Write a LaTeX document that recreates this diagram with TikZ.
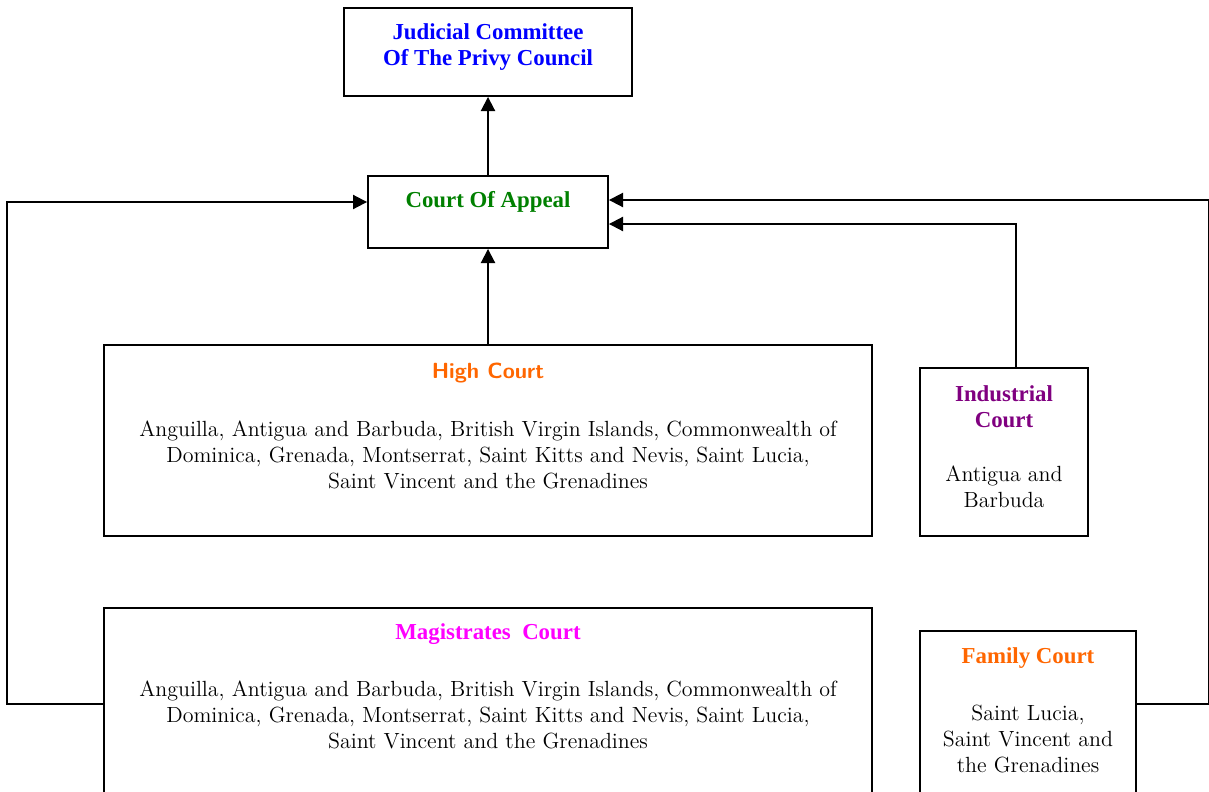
\documentclass[tikz,border=0pt]{standalone}
\usepackage{fontspec}
\newfontfamily\titlefont{Liberation Serif}
\usetikzlibrary{arrows.meta,positioning}
\definecolor{jcblue}{RGB}{0,0,255}
\definecolor{appgreen}{RGB}{0,128,0}
\definecolor{hcorange}{RGB}{255,102,0}
\definecolor{icpurple}{RGB}{128,0,128}
\definecolor{mcmagenta}{RGB}{255,0,255}
\tikzset{
  court/.style={draw, rectangle, line width=1.1pt, inner sep=0pt},
  ctitle/.style={font=\fontsize{13}{15}\selectfont\titlefont\bfseries, align=center},
  cbody/.style={font=\fontsize{12.5}{15}\selectfont, align=center},
}
\begin{document}
\begin{tikzpicture}[x=0.02cm, y=-0.02cm, line width=1.1pt, >={Triangle[width=8pt,length=8pt]}]
        \clip (0,0) rectangle (1209,791);
        % boxes
        \node[court, minimum width=5.76cm, minimum height=1.76cm] (judicial) at (488,52) {};
        \node[court, minimum width=4.8cm, minimum height=1.44cm] (appeal) at (488,212) {};
        \node[court, minimum width=15.36cm, minimum height=3.82cm] (high) at (488,440.5) {};
        \node[court, minimum width=3.36cm, minimum height=3.36cm] (industrial) at (1004,452) {};
        \node[court, minimum width=15.36cm, minimum height=3.84cm] (magistrates) at (488,704) {};
        \node[court, minimum width=4.32cm, minimum height=3.4cm] (family) at (1028,716) {};
        % texts
        \node[ctitle, text=jcblue] (judicialtxt) at (488,47) {Judicial Committee\\Of The Privy Council};
        \node[ctitle, text=appgreen] (appealtxt) at (488,202) {Court Of Appeal};
        \node[ctitle, text=hcorange, font=\fontsize{12.5}{15}\selectfont\sffamily\bfseries] (hightitle) at (488,373) {High Court};
        \node[cbody] (hightxt) at (488,455) {Anguilla, Antigua and Barbuda, British Virgin Islands, Commonwealth of\\Dominica, Grenada, Montserrat, Saint Kitts and Nevis, Saint Lucia,\\Saint Vincent and the Grenadines};
        \node[ctitle, text=icpurple] (indtitle) at (1004,407) {Industrial\\Court};
        \node[cbody] (indtxt) at (1004,487) {Antigua and\\Barbuda};
        \node[ctitle, text=mcmagenta] (magtitle) at (488,634) {Magistrates~~Court};
        \node[cbody] (magtxt) at (488,715) {Anguilla, Antigua and Barbuda, British Virgin Islands, Commonwealth of\\Dominica, Grenada, Montserrat, Saint Kitts and Nevis, Saint Lucia,\\Saint Vincent and the Grenadines};
        \node[ctitle, text=hcorange] (famtitle) at (1028,658) {Family Court};
        \node[cbody] (famtxt) at (1028,739) {Saint Lucia,\\Saint Vincent and\\the Grenadines};
        % appeals
        \draw[->] (appeal) -- (judicial);
        \draw[->] (high) -- (appeal);
        \draw[->] ([xshift=0.24cm]industrial.north) |- ([yshift=-0.24cm]appeal.east);
        \draw[->] (family.east |- magistrates.west) -- ++(72,0) |- ([yshift=0.24cm]appeal.east);
        \draw[->] (magistrates.west) -- ++(-96,0) |- ([yshift=0.2cm]appeal.west);
\end{tikzpicture}
\end{document}
